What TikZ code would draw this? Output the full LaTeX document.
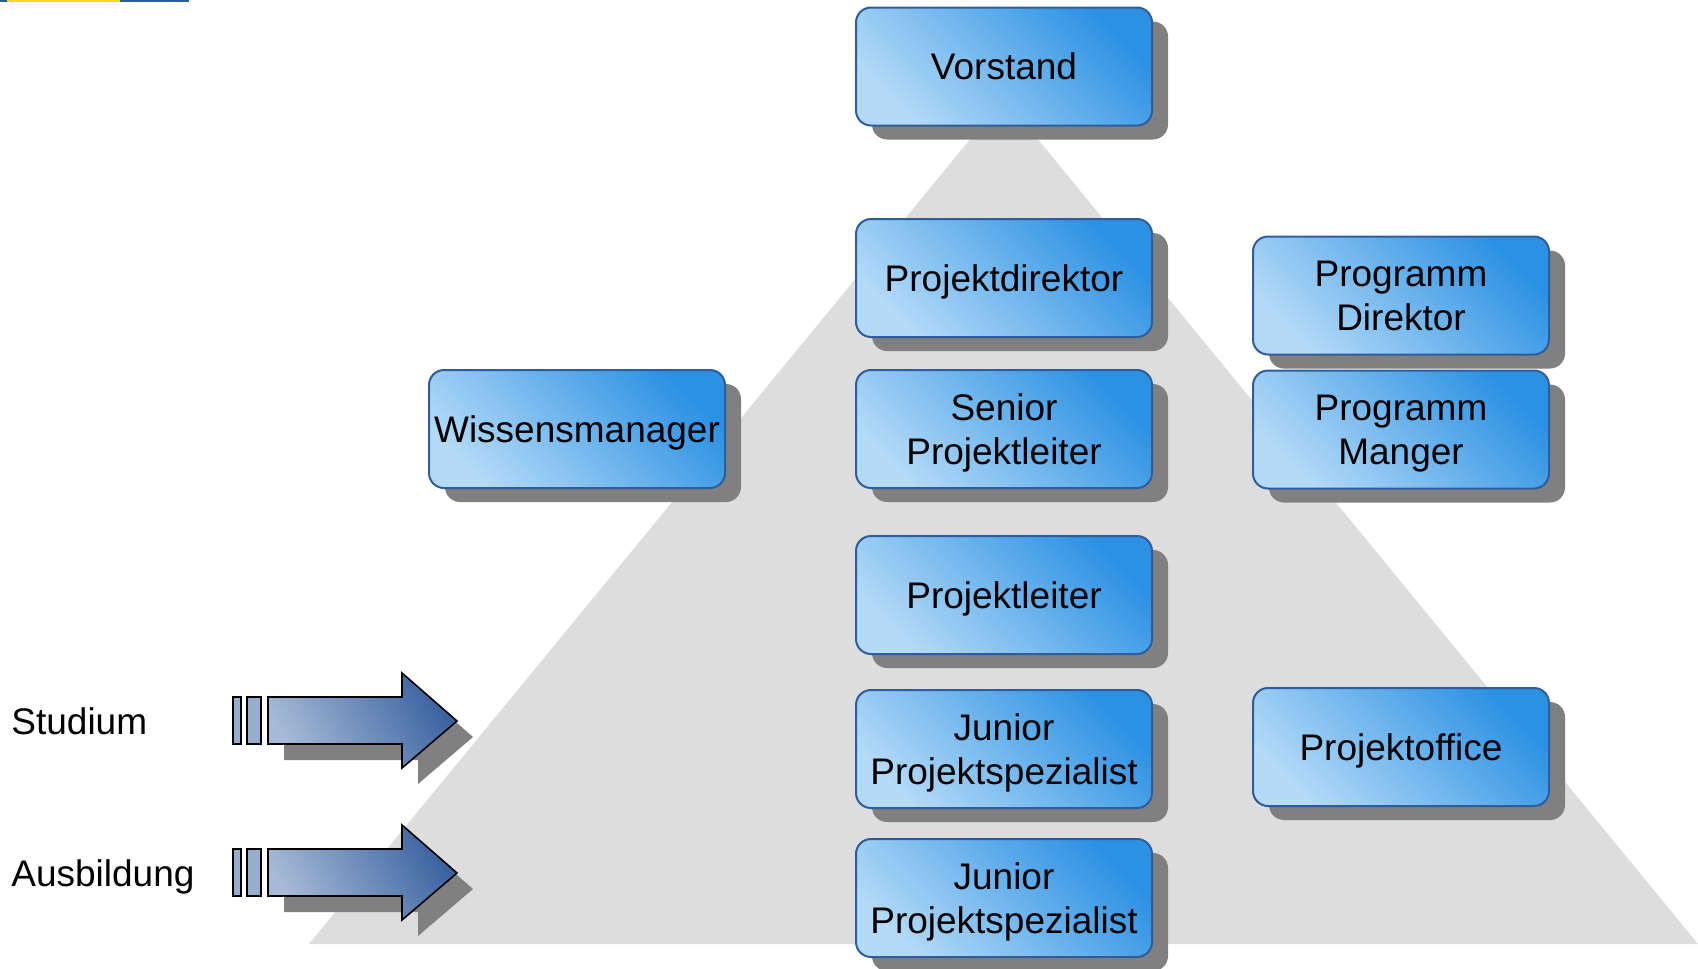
\documentclass[tikz,border=0pt]{standalone}
\usepackage{fontspec}
\setmainfont{Liberation Sans}
\usetikzlibrary{shapes}
\usetikzlibrary{shadows}
\definecolor{boxdark}{HTML}{2C91E3}
\definecolor{boxlight}{HTML}{B4DAF7}
\definecolor{boxline}{HTML}{2F5D9B}
\definecolor{shadowgray}{HTML}{808080}
\definecolor{pyramidgray}{HTML}{DDDDDD}
\definecolor{arrowdark}{HTML}{3A62A0}
\definecolor{arrowlight}{HTML}{A6BAD6}
\definecolor{barblue}{HTML}{2E5C9A}
\definecolor{baryellow}{HTML}{F6D912}
\tikzset{
  role node/.style={rectangle,rounded corners=7.5pt,draw=boxline,line width=1pt,
    minimum width=148pt,minimum height=59pt,inner sep=0pt,align=center,text depth=0pt,
    top color=boxdark,bottom color=boxlight,shading angle=-45,
    drop shadow={shadow xshift=8pt,shadow yshift=-7pt,fill=shadowgray,opacity=1},
    font=\fontsize{18.5}{22}\selectfont},
  side label/.style={anchor=west,inner sep=0pt,text depth=0pt,font=\fontsize{18.5}{22}\selectfont},
  block arrow/.style={draw=black,line width=0.8pt,top color=arrowdark,bottom color=arrowlight,
    shading angle=-60,
    drop shadow={shadow xshift=8pt,shadow yshift=-8pt,fill=shadowgray,opacity=1}},
  arrow bar/.style={draw=black,line width=0.8pt,fill=arrowlight!85!arrowdark}
}

\begin{document}
\begin{tikzpicture}[x=0.5pt,y=-0.5pt]
  \useasboundingbox (0,0) rectangle (1698,969);
  \fill[barblue] (0,0) rectangle (189,1.5);
  \fill[baryellow] (7,0) rectangle (120,1.5);

  \fill[pyramidgray] (1004,98) -- (1698,944) -- (309,944) -- cycle;

  \foreach \y in {721,873} {
    \draw[arrow bar] (233,\y-24) rectangle (241,\y+23);
    \draw[arrow bar] (247,\y-24) rectangle (261,\y+23);
    \draw[block arrow] (268,\y-24) -- (402,\y-24) -- (402,\y-48) -- (457,\y)
      -- (402,\y+47) -- (402,\y+23) -- (268,\y+23) -- cycle;
  }
  \node[side label] (studium) at (11,721) {Studium};
  \node[side label] (ausbildung) at (11,873) {Ausbildung};

  \node[role node] (vorstand) at (1004,66.5) {Vorstand};
  \node[role node] (pdirektor) at (1004,278) {Projektdirektor};
  \node[role node] (senior) at (1004,429) {Senior\\Projektleiter};
  \node[role node] (pleiter) at (1004,595) {Projektleiter};
  \node[role node] (junior1) at (1004,749) {Junior\\Projektspezialist};
  \node[role node] (junior2) at (1004,898) {Junior\\Projektspezialist};
  \node[role node] (wissen) at (577,429) {Wissensmanager};
  \node[role node] (progdir) at (1401,295.5) {Programm\\Direktor};
  \node[role node] (progman) at (1401,429.5) {Programm\\Manger};
  \node[role node] (office) at (1401,747) {Projektoffice};
\end{tikzpicture}
\end{document}
